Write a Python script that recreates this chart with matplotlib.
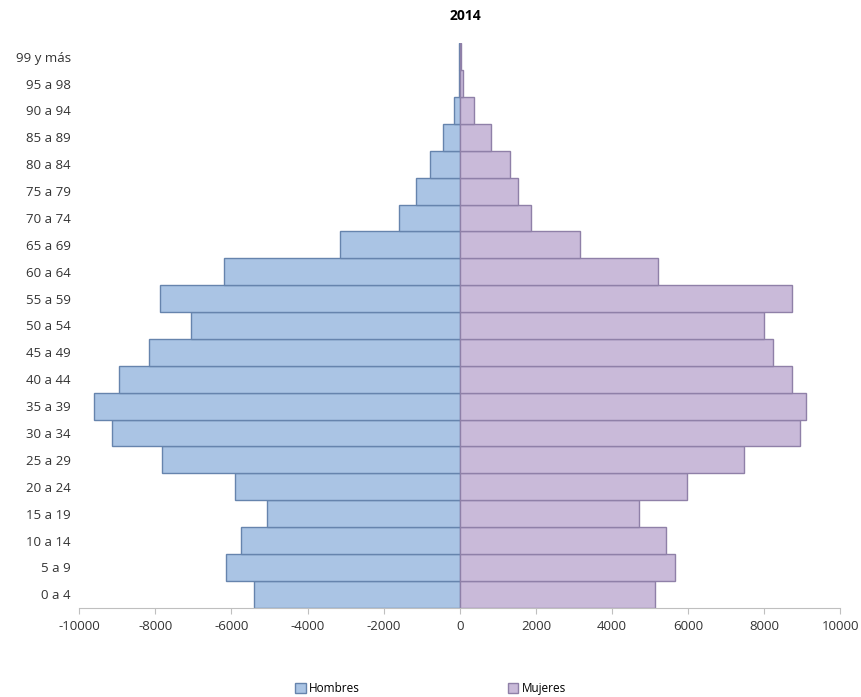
import matplotlib.pyplot as plt

plt.rcParams['font.family'] = ['Open Sans', 'DejaVu Sans']

# Age groups, bottom to top
grupos = ['0 a 4', '5 a 9', '10 a 14', '15 a 19', '20 a 24', '25 a 29', '30 a 34',
          '35 a 39', '40 a 44', '45 a 49', '50 a 54', '55 a 59', '60 a 64', '65 a 69',
          '70 a 74', '75 a 79', '80 a 84', '85 a 89', '90 a 94', '95 a 98', '99 y más']
hombres = [-5410, -6140, -5750, -5060, -5900, -7830, -9140, -9620, -8960, -8170,
           -7050, -7880, -6200, -3160, -1600, -1140, -770, -440, -140, -30, -10]
mujeres = [5140, 5650, 5420, 4720, 5980, 7480, 8930, 9110, 8740, 8240,
           7990, 8720, 5210, 3170, 1880, 1530, 1330, 830, 370, 90, 20]
xticks = [-10000, -8000, -6000, -4000, -2000, 0, 2000, 4000, 6000, 8000, 10000]

fig = plt.figure(figsize=(8.61, 6.97), dpi=100)
ax = fig.add_axes([0.092, 0.128, 0.884, 0.81])

ax.barh(grupos, hombres, height=1.0, color='#aac4e4', edgecolor='#6684ad',
        linewidth=1.0, label='Hombres')
ax.barh(grupos, mujeres, height=1.0, color='#c9bad9', edgecolor='#8f80a8',
        linewidth=1.0, label='Mujeres')

ax.set_xlim(-10000, 10000)
ax.set_ylim(-0.5, len(grupos) - 0.5)
ax.set_xticks(xticks)
ax.set_xticklabels([str(t) for t in xticks])
ax.tick_params(axis='x', length=4, color='#bfbfbf', labelsize=9.5, labelcolor='#333333', pad=5)
ax.tick_params(axis='y', length=0, labelsize=9.5, labelcolor='#333333', pad=6)

for s in ['top', 'right', 'left']:
    ax.spines[s].set_visible(False)
ax.spines['bottom'].set_color('#bfbfbf')

fig.text(0.54, 0.977, '2014', ha='center', va='center', fontsize=10, fontweight='bold')

fig.legend(loc='lower center', bbox_to_anchor=(0.5, -0.012), ncol=2, frameon=False,
           fontsize=8.5, columnspacing=12.5, handlelength=0.9, handleheight=0.9,
           handletextpad=0.3)

fig.savefig('out.png', dpi=100)
